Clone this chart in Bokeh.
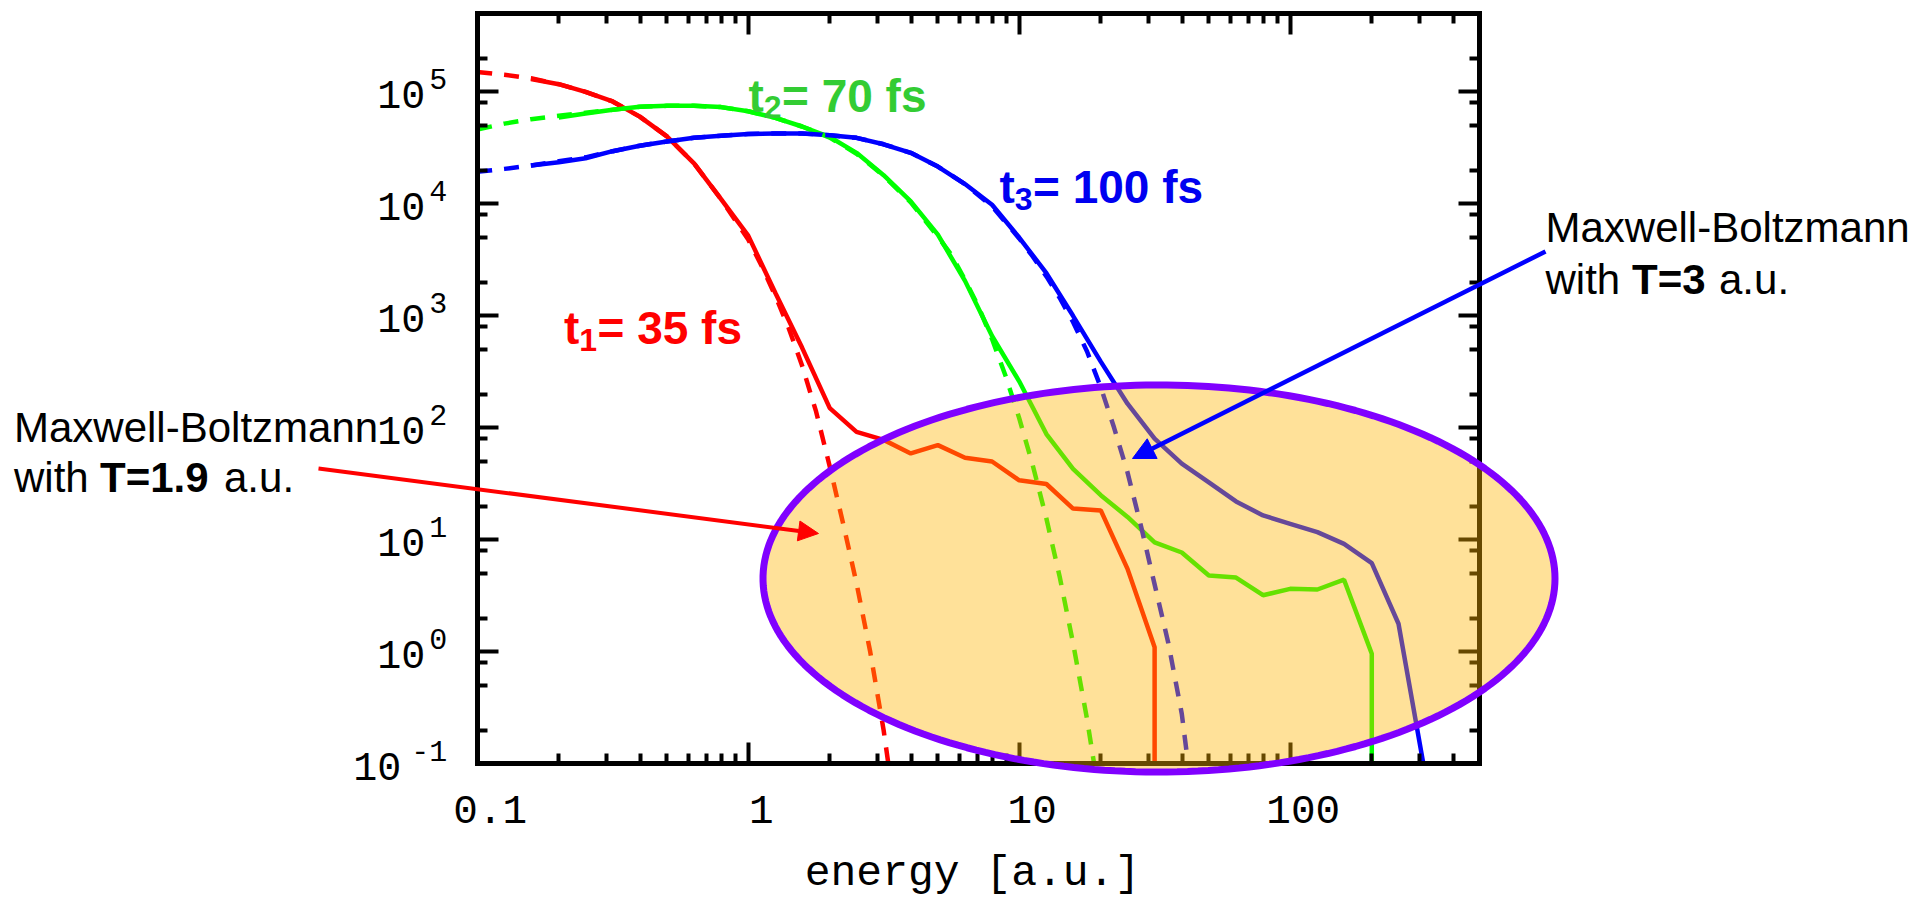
import numpy as np
from bokeh.plotting import figure
from bokeh.models import (Range1d, LogAxis, LogScale, FixedTicker, CustomJSTickFormatter,
                          Label, Arrow, NormalHead)
from bokeh.embed import file_html
from bokeh.resources import INLINE

# ---------------- data ----------------
X_LIMITS = (0.1, 500.0)
Y_LIMITS = (0.1, 5e5)
X_TICKS = [0.1, 1, 10, 100]
X_TICK_LABELS = ["0.1", "1", "10", "100"]
Y_TICKS = [0.1, 1, 10, 100, 1e3, 1e4, 1e5]
Y_TICK_BASE = ["10\u00a0", "10", "10", "10", "10", "10", "10"]   # mantissa of 10^n
Y_TICK_EXP = ["-1", "0", "1", "2", "3", "4", "5"]                 # exponent (superscript)
X_LABEL = "energy [a.u.]"

# t1 = 35 fs  (simulation, solid) ; last point: drop to the axis floor
E_RED = [0.158, 0.2, 0.251, 0.316, 0.398, 0.501, 0.631, 0.794, 1.0, 1.26, 1.58, 2.0,
         2.51, 3.16, 3.98, 5.01, 6.31, 7.94, 10.0, 12.6, 15.8, 20.0, 25.1, 31.6, 31.6]
N_RED = [1.3e5, 1.17e5, 1.0e5, 8.2e4, 6.0e4, 4.0e4, 2.3e4, 1.1e4, 5.2e3, 1.6e3, 520, 150,
         92, 78, 59, 70, 54, 50, 34, 31.5, 19, 18.3, 5.5, 1.1, 0.1]
# Maxwell-Boltzmann T=1.9 a.u. (dashed)
E_RED_MB = [0.1, 0.126, 0.158, 0.2, 0.251, 0.316, 0.398, 0.501, 0.631, 0.794, 1.0, 1.12,
            1.26, 1.41, 1.58, 1.78, 2.0, 2.24, 2.51, 2.82, 3.16, 3.29]
N_RED_MB = [1.5e5, 1.42e5, 1.32e5, 1.17e5, 1.0e5, 8.2e4, 6.0e4, 4.0e4, 2.3e4, 1.1e4, 4.8e3, 2.8e3,
            1.5e3, 780, 360, 140, 45, 14, 4.1, 1.0, 0.2, 0.1]

# t2 = 70 fs
E_GREEN = [0.2, 0.251, 0.316, 0.398, 0.501, 0.631, 0.794, 1.0, 1.26, 1.58, 2.0, 2.51, 3.16,
           3.98, 5.01, 6.31, 7.94, 10.0, 12.6, 15.8, 20.0, 25.1, 31.6, 39.8, 50.1, 63.1, 79.4,
           100, 126, 158, 200, 200]
N_GREEN = [5.9e4, 6.4e4, 6.9e4, 7.35e4, 7.5e4, 7.5e4, 7.3e4, 6.7e4, 5.85e4, 4.9e4, 3.95e4, 2.85e4, 1.8e4,
           1.05e4, 5.3e3, 2.05e3, 660, 260, 88, 43, 25, 16, 9.5, 7.7, 4.8, 4.6, 3.2,
           3.65, 3.6, 4.4, 0.96, 0.1]
E_GREEN_MB = [0.1, 0.126, 0.158, 0.2, 0.251, 0.316, 0.398, 0.501, 0.631, 0.794, 1.0, 1.26, 1.58,
              2.0, 2.51, 3.16, 3.98, 5.01, 5.62, 6.31, 7.08, 7.94, 8.91, 10.0, 11.2, 12.6, 14.1,
              15.8, 17.8, 18.9]
N_GREEN_MB = [4.6e4, 5.2e4, 5.7e4, 6.1e4, 6.5e4, 6.9e4, 7.35e4, 7.5e4, 7.5e4, 7.3e4, 6.7e4, 5.85e4, 4.9e4,
              3.9e4, 2.8e4, 1.78e4, 1.03e4, 5.1e3, 3.5e3, 2.1e3, 1.2e3, 620, 290, 122, 47, 15.5, 4.7,
              1.2, 0.25, 0.1]

# t3 = 100 fs
E_BLUE = [0.158, 0.2, 0.251, 0.316, 0.398, 0.501, 0.631, 0.794, 1.0, 1.26, 1.58, 2.0, 2.51,
          3.16, 3.98, 5.01, 6.31, 7.94, 10.0, 12.6, 15.8, 20.0, 25.1, 31.6, 39.8, 50.1, 63.1,
          79.4, 100, 126, 158, 200, 251, 310]
N_BLUE = [2.2e4, 2.35e4, 2.55e4, 2.95e4, 3.3e4, 3.6e4, 3.88e4, 4.05e4, 4.2e4, 4.25e4, 4.25e4, 4.1e4, 3.88e4,
          3.4e4, 2.85e4, 2.15e4, 1.5e4, 9.8e3, 5.0e3, 2.4e3, 1.0e3, 390, 164, 80, 47.8, 32.6, 22,
          16.5, 13.9, 11.7, 9.2, 6.2, 1.78, 0.1]
E_BLUE_MB = [0.1, 0.126, 0.158, 0.2, 0.251, 0.316, 0.398, 0.501, 0.631, 0.794, 1.0, 1.26, 1.58,
             2.0, 2.51, 3.16, 3.98, 5.01, 6.31, 7.94, 10.0, 11.2, 12.6, 14.1, 15.8, 17.8, 20.0,
             22.4, 25.1, 28.2, 31.6, 35.5, 39.8, 42.0]
N_BLUE_MB = [1.93e4, 2.05e4, 2.2e4, 2.4e4, 2.6e4, 2.95e4, 3.3e4, 3.6e4, 3.88e4, 4.05e4, 4.2e4, 4.25e4, 4.25e4,
             4.1e4, 3.88e4, 3.4e4, 2.85e4, 2.15e4, 1.5e4, 9.5e3, 4.9e3, 3.4e3, 2.25e3, 1.45e3, 880, 480, 230,
             100, 40, 13, 4.0, 1.2, 0.28, 0.1]

# ---------------- styles / geometry ----------------
RED, GREEN, BLUE = "#FF0000", "#00FF00", "#0000FF"
LBL_RED, LBL_GREEN, LBL_BLUE = "#FF0000", "#33CC33", "#0000F0"
MONO = "Liberation Mono"
SANS = "Liberation Sans"
LW = 4.5

W, H = 1920, 899
X0_PX, X_DEC_PX = 476.7, 271.0     # page x of E = 0.1, pixels per decade
Y0_PX, Y_DEC_PX = 763.3, 112.0     # page y of N = 0.1, pixels per decade
XLAB_SHIFT = 13                    # x tick labels sit a little right of their tick


def dx(px):
    return 10 ** (-1 + (px - X0_PX) / X_DEC_PX)


def dy(py):
    return 10 ** (-1 + (Y0_PX - py) / Y_DEC_PX)


def shifted_x(px_shift):   # same scale, labels moved right by px_shift
    return Range1d(dx(0 - px_shift), dx(W - px_shift))


def shifted_y(py_shift):   # same scale, labels moved down by py_shift
    return Range1d(dy(H - py_shift), dy(0 - py_shift))


p = figure(frame_width=W, frame_height=H, x_axis_type="log", y_axis_type="log",
           x_range=Range1d(dx(0), dx(W)), y_range=Range1d(dy(H), dy(0)),
           x_axis_location=None, y_axis_location=None,
           output_backend="svg", toolbar_location=None, min_border=0)
p.grid.visible = False
p.outline_line_color = None
p.background_fill_color = "white"
p.border_fill_color = "white"
p.extra_x_ranges = {"xlab": shifted_x(XLAB_SHIFT)}
p.extra_x_scales = {"xlab": LogScale()}
p.extra_y_ranges = {"ybase": shifted_y(6), "ysup": shifted_y(-13)}
p.extra_y_scales = {"ybase": LogScale(), "ysup": LogScale()}


def fmt(vals, labs):
    return CustomJSTickFormatter(args=dict(tv=vals, tl=labs), code="""
        for (let i = 0; i < tv.length; i++) {
            if (Math.abs(Math.log10(tick / tv[i])) < 1e-6) return tl[i];
        }
        return "";
    """)


blank = CustomJSTickFormatter(code="return '';")
x_minor = [m * d for d in (0.1, 1, 10) for m in range(2, 10)] + [200, 300, 400]
y_minor = [m * d for d in (0.1, 1, 10, 100, 1e3, 1e4) for m in (2, 5, 8)] + [2e5]


def frame_axis(ax):
    ax.axis_line_width = 5
    ax.axis_line_color = "black"
    ax.axis_line_cap = "square"
    ax.major_tick_in = 21
    ax.major_tick_out = 0
    ax.minor_tick_in = 10
    ax.minor_tick_out = 0
    ax.major_tick_line_width = 4
    ax.minor_tick_line_width = 4
    ax.major_tick_line_color = "black"
    ax.minor_tick_line_color = "black"
    return ax


def label_axis(ax, size, standoff):
    ax.axis_line_color = None
    ax.major_tick_line_color = None
    ax.minor_tick_line_color = None
    ax.major_tick_in = 0
    ax.major_tick_out = 0
    ax.minor_tick_in = 0
    ax.minor_tick_out = 0
    ax.major_label_text_font = MONO
    ax.major_label_text_font_size = f"{size}px"
    ax.major_label_text_color = "black"
    ax.major_label_standoff = standoff
    return ax


# box: ticks on all four sides, pointing inwards
p.add_layout(frame_axis(LogAxis(fixed_location=Y_LIMITS[0], bounds=X_LIMITS,
                                ticker=FixedTicker(ticks=X_TICKS, minor_ticks=x_minor),
                                formatter=blank)), "below")
p.add_layout(frame_axis(LogAxis(fixed_location=Y_LIMITS[1], bounds=X_LIMITS,
                                ticker=FixedTicker(ticks=X_TICKS, minor_ticks=x_minor),
                                formatter=blank)), "above")
p.add_layout(frame_axis(LogAxis(fixed_location=X_LIMITS[0], bounds=Y_LIMITS,
                                ticker=FixedTicker(ticks=Y_TICKS, minor_ticks=y_minor),
                                formatter=blank)), "left")
p.add_layout(frame_axis(LogAxis(fixed_location=X_LIMITS[1], bounds=Y_LIMITS,
                                ticker=FixedTicker(ticks=Y_TICKS, minor_ticks=y_minor),
                                formatter=blank)), "right")

# tick labels (IDL style: x labels a little right of the tick, 10 with raised exponent)
xl = label_axis(LogAxis(x_range_name="xlab", fixed_location=Y_LIMITS[0],
                        bounds=(dx(476.7 - XLAB_SHIFT), dx(1467.3 - XLAB_SHIFT)),
                        ticker=FixedTicker(ticks=X_TICKS, minor_ticks=[]),
                        formatter=fmt(X_TICKS, X_TICK_LABELS), axis_label=X_LABEL), 41, 32)
xl.axis_label_text_font = MONO
xl.axis_label_text_font_size = "43px"
xl.axis_label_text_font_style = "normal"
xl.axis_label_text_color = "black"
xl.axis_label_standoff = 23
p.add_layout(xl, "below")

p.add_layout(label_axis(LogAxis(y_range_name="ybase", fixed_location=X_LIMITS[0],
                                ticker=FixedTicker(ticks=Y_TICKS, minor_ticks=[]),
                                formatter=fmt(Y_TICKS, Y_TICK_BASE)), 40, 52), "left")
p.add_layout(label_axis(LogAxis(y_range_name="ysup", fixed_location=X_LIMITS[0],
                                ticker=FixedTicker(ticks=Y_TICKS, minor_ticks=[]),
                                formatter=fmt(Y_TICKS, Y_TICK_EXP)), 30, 30), "left")

# ---------------- curves ----------------
for e, n, c in ((E_RED, N_RED, RED), (E_GREEN, N_GREEN, GREEN), (E_BLUE, N_BLUE, BLUE)):
    p.line(e, n, line_color=c, line_width=LW)
for e, n, c in ((E_RED_MB, N_RED_MB, RED), (E_GREEN_MB, N_GREEN_MB, GREEN), (E_BLUE_MB, N_BLUE_MB, BLUE)):
    p.line(e, n, line_color=c, line_width=LW, line_dash="15 12")

# ---------------- highlight ellipse (drawn above curves and axes) ----------------
cx, cy = 1158.5, 578.0          # page px
rx, ry = 396.0, 193.5
t = np.linspace(0, 2 * np.pi, 240)
ell_x = [dx(cx + rx * np.cos(a)) for a in t]
ell_y = [dy(cy + ry * np.sin(a)) for a in t]
p.patch(ell_x, ell_y, fill_color="#FFB400", fill_alpha=0.4,
        line_color="#8000FF", line_width=7, level="annotation")

# ---------------- arrows ----------------
p.add_layout(Arrow(x_start=dx(318), y_start=dy(468), x_end=dx(818), y_end=dy(533),
                   line_color=RED, line_width=4, level="overlay",
                   end=NormalHead(size=20, fill_color=RED, line_color=RED, line_width=1)))
p.add_layout(Arrow(x_start=dx(1545), y_start=dy(251), x_end=dx(1132), y_end=dy(458),
                   line_color=BLUE, line_width=4.5, level="overlay",
                   end=NormalHead(size=22, fill_color=BLUE, line_color=BLUE, line_width=1)))


# ---------------- texts ----------------
def label(px, py, text, size, color="black", bold=False, font=SANS):
    p.add_layout(Label(x=dx(px), y=dy(py), text=text, text_font=font,
                       text_font_size=f"{size}px", text_color=color,
                       text_font_style="bold" if bold else "normal",
                       text_align="left", text_baseline="alphabetic", level="overlay"))


# left annotation
label(13.5, 426.7, "Maxwell-Boltzmann", 42)
label(13.5, 476.7, "with", 42)
label(99.5, 476.7, "T=1.9", 42, bold=True)
label(223.5, 476.7, "a.u.", 42)
# right annotation
label(1545, 226.7, "Maxwell-Boltzmann", 42)
label(1545, 279.3, "with", 42)
label(1631.5, 279.3, "T=3", 42, bold=True)
label(1718.5, 279.3, "a.u.", 42)

# curve labels  t_i = ... fs
for (x0, base, sub, rest, col) in ((563.5, 327.3, "1", "= 35 fs", LBL_RED),
                                   (748.0, 95.0, "2", "= 70 fs", LBL_GREEN),
                                   (999.0, 186.7, "3", "= 100 fs", LBL_BLUE)):
    label(x0, base, "t", 46, col, bold=True)
    label(x0 + 15.3, base + 11.8, sub, 32, col, bold=True)
    label(x0 + 33.5, base, rest, 46, col, bold=True)

open("out.html", "w").write(file_html(p, INLINE))
